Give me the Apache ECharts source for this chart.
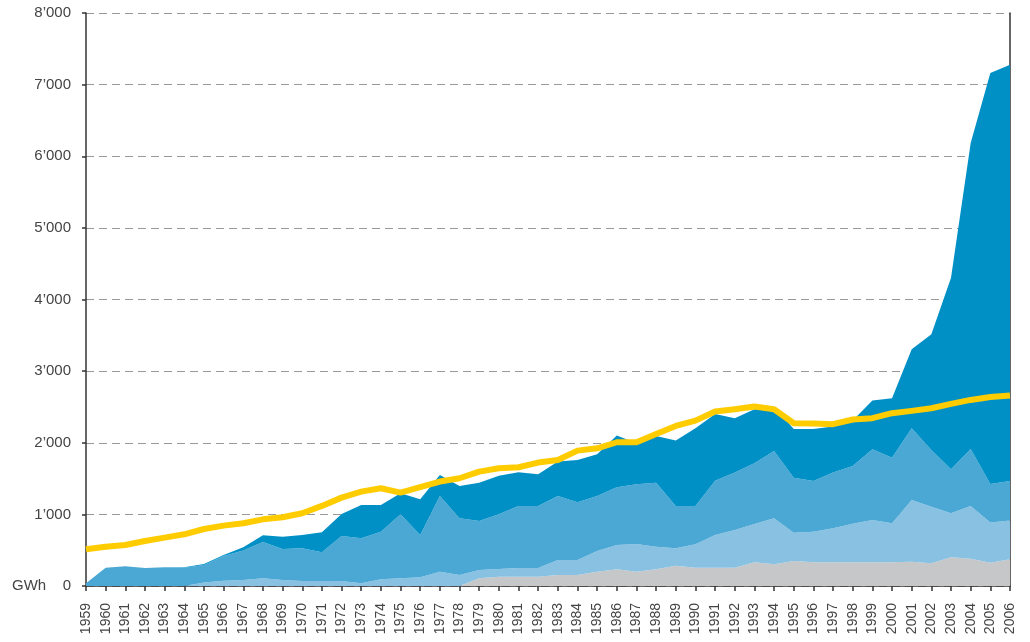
<!DOCTYPE html>
<html>
<head>
<meta charset="utf-8">
<script src="https://cdn.jsdelivr.net/npm/echarts@6/dist/echarts.min.js"></script>
<style>
html,body{margin:0;padding:0;background:#fff;}
#chart{width:1030px;height:642px;}
</style>
</head>
<body>
<div id="chart"></div>
<script>
const years = [];
for (let y = 1959; y <= 2006; y++) years.push(String(y));

const grayLayer = [0,0,0,0,0,0,0,0,0,0,0,0,0,0,0,0,0,0,0,0,107,130,130,130,154,154,200,233,200,233,284,256,256,256,331,303,349,331,331,331,331,331,340,317,401,382,326,373];
const lightLayer = [0,0,0,0,0,0,50,75,84,107,84,70,70,70,40,93,107,121,200,154,117,107,121,121,209,209,289,340,387,316,242,326,456,526,535,642,396,428,475,539,591,545,861,791,614,736,559,540];
const mediumLayer = [37,256,275,251,261,256,243,344,410,508,433,456,400,628,626,666,894,591,1057,791,684,764,867,867,894,806,768,806,833,894,592,536,759,801,848,941,768,708,777,806,987,916,1002,792,615,796,540,554];
const darkLayer = [0,0,0,0,0,5,14,14,46,93,172,186,280,308,466,373,294,499,294,452,535,540,470,442,480,591,582,721,574,652,912,1085,932,760,754,619,680,726,643,634,680,830,1104,1616,2673,4271,5738,5811];
const lineValues = [512,549,573,629,675,722,796,843,876,931,959,1015,1118,1234,1318,1365,1304,1379,1458,1504,1597,1644,1658,1723,1760,1890,1923,2007,2007,2123,2235,2309,2435,2468,2505,2468,2273,2268,2259,2325,2343,2413,2445,2482,2543,2598,2640,2659];
const yTicks = [0,1000,2000,3000,4000,5000,6000,7000,8000];

const font = "'Liberation Sans', Arial, sans-serif";
function areaSeries(name, data, color) {
  return {
    name: name, type: 'line', stack: 'total', data: data,
    symbol: 'none', smooth: false,
    lineStyle: { width: 0 },
    areaStyle: { color: color, opacity: 1 },
    itemStyle: { color: color },
    z: 2
  };
}

const chart = echarts.init(document.getElementById('chart'), null, { renderer: 'canvas' });
chart.setOption({
  animation: false,
  backgroundColor: '#ffffff',
  grid: { left: 86, right: 20, top: 13, bottom: 56, containLabel: false },
  xAxis: {
    type: 'category', data: years, boundaryGap: false,
    axisLine: { show: true, lineStyle: { color: '#333', width: 1.5 } },
    axisTick: { show: true, alignWithLabel: true, length: 5, lineStyle: { color: '#333', width: 1.5 } },
    axisLabel: { interval: 0, rotate: 90, margin: 17, color: '#444', fontSize: 14, fontFamily: font },
    splitLine: { show: false }
  },
  yAxis: [{
    type: 'value', min: 0, max: 8000, interval: 1000,
    axisLine: { show: true, lineStyle: { color: '#333', width: 1.5 } },
    axisTick: { show: true, length: 4, lineStyle: { color: '#333', width: 1.5 } },
    axisLabel: {
      margin: 15, color: '#444', fontSize: 15, fontFamily: font,
      formatter: function (v) { return v === 0 ? '0' : (v / 1000) + '\u2019000'; }
    },
    splitLine: { show: true, lineStyle: { color: '#999', type: [8, 5], width: 1 } }
  }, {
    type: 'value', min: 0, max: 8000, interval: 1000, position: 'right',
    axisLine: { show: true, lineStyle: { color: '#333', width: 1.5 } },
    axisTick: { show: false }, axisLabel: { show: false }, splitLine: { show: false }
  }],
  graphic: [{
    type: 'text', left: 12, top: 578,
    style: { text: 'GWh', fill: '#444', font: '15px ' + font }
  }],
  series: [
    areaSeries('A', grayLayer, '#c6c7c9'),
    areaSeries('B', lightLayer, '#88c1e2'),
    areaSeries('C', mediumLayer, '#4ba7d4'),
    areaSeries('D', darkLayer, '#0090c6'),
    {
      name: 'Line', type: 'line', data: lineValues, symbol: 'none',
      lineStyle: { color: '#ffcc00', width: 6, join: 'round' },
      itemStyle: { color: '#ffcc00' }, z: 5
    }
  ]
});
</script>
</body>
</html>
